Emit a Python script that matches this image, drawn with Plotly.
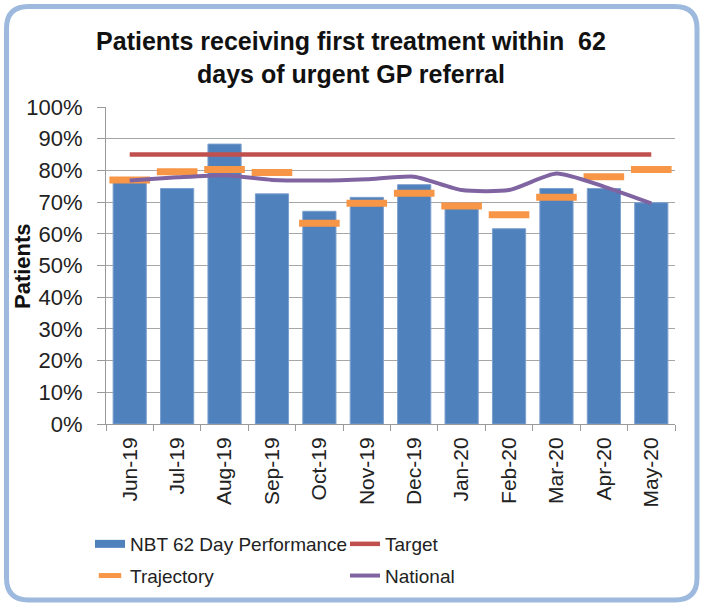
import plotly.graph_objects as go

# data
months = ["Jun-19", "Jul-19", "Aug-19", "Sep-19", "Oct-19", "Nov-19",
          "Dec-19", "Jan-20", "Feb-20", "Mar-20", "Apr-20", "May-20"]
nbt_performance = [0.772, 0.743, 0.883, 0.726, 0.671, 0.715,
                   0.755, 0.684, 0.616, 0.743, 0.743, 0.698]
target = [0.85] * 12
trajectory = [0.770, 0.796, 0.803, 0.793, 0.633, 0.696,
              0.728, 0.688, 0.660, 0.715, 0.780, 0.803]
national = [0.768, 0.778, 0.785, 0.770, 0.768, 0.772,
            0.780, 0.738, 0.738, 0.790, 0.749, 0.696]

W, H = 702, 605
ML, MR, MT, MB = 106, 27, 107, 181
PW, PH = W - ML - MR, H - MT - MB


def px(x):
    return (x - ML) / PW


def py(y):
    return (H - MB - y) / PH


# rounded frame around the whole chart
x0, x1, y0, y1, r = 6.5, 697, 6.5, 600, 22
frame = (f"M {px(x0 + r)},{py(y0)} L {px(x1 - r)},{py(y0)} "
         f"Q {px(x1)},{py(y0)} {px(x1)},{py(y0 + r)} "
         f"L {px(x1)},{py(y1 - r)} Q {px(x1)},{py(y1)} {px(x1 - r)},{py(y1)} "
         f"L {px(x0 + r)},{py(y1)} Q {px(x0)},{py(y1)} {px(x0)},{py(y1 - r)} "
         f"L {px(x0)},{py(y0 + r)} Q {px(x0)},{py(y0)} {px(x0 + r)},{py(y0)} Z")

BLUE, RED, ORANGE, PURPLE = "#4F81BD", "#C0504D", "#F79646", "#8064A2"

fig = go.Figure()

fig.add_trace(go.Bar(
    x=months, y=nbt_performance, name="NBT 62 Day Performance",
    marker=dict(color=BLUE, line=dict(color="#7DA0CF", width=1)),
    showlegend=False,
))
# legend proxy for the bars (long flat swatch)
fig.add_trace(go.Scatter(
    x=[months[0]], y=[None], mode="lines", name="NBT 62 Day Performance",
    line=dict(color=BLUE, width=8), legend="legend", legendgroup="a",
))
fig.add_trace(go.Scatter(
    x=months, y=target, mode="lines", name="Target",
    line=dict(color=RED, width=4.5), legend="legend2", legendgroup="b",
))
fig.add_trace(go.Scatter(
    x=months, y=trajectory, mode="markers", name="Trajectory",
    marker=dict(symbol="line-ew", size=29, color=ORANGE,
                line=dict(color=ORANGE, width=7)),
    legend="legend", legendgroup="c",
))
fig.add_trace(go.Scatter(
    x=months, y=national, mode="lines", name="National",
    line=dict(color=PURPLE, width=4, shape="spline", smoothing=0.6),
    legend="legend2", legendgroup="d",
))

legend_style = dict(
    font=dict(family="Liberation Sans, Arial", size=19, color="#222222"),
    bgcolor="rgba(0,0,0,0)", xanchor="left", yanchor="top",
    tracegroupgap=4, itemwidth=30,
)

fig.update_layout(
    width=W, height=H,
    margin=dict(l=ML, r=MR, t=MT, b=MB, autoexpand=False),
    paper_bgcolor="white", plot_bgcolor="white",
    font=dict(family="Liberation Sans, Arial", color="#222222"),
    title=dict(
        text="<b>Patients receiving first treatment within  62<br>days of urgent GP referral</b>",
        x=0.5, xref="container", xanchor="center",
        y=1 - 50 / H, yanchor="top",
        font=dict(family="Liberation Sans, Arial", size=25, color="#111111"),
    ),
    bargap=0.3,
    xaxis=dict(
        type="category", range=[-0.5, 11.5],
        tickangle=-90, tickfont=dict(size=21), ticklabelstandoff=4,
        showline=True, linecolor="#9A9A9A", linewidth=1,
        ticks="outside", tickson="boundaries", ticklen=6, tickcolor="#9A9A9A",
        showgrid=False,
    ),
    yaxis=dict(
        range=[0, 1], dtick=0.1, tickformat=".0%",
        tickfont=dict(size=22), ticklabelstandoff=10,
        showline=True, linecolor="#9A9A9A", linewidth=1,
        ticks="outside", ticklen=8, tickcolor="#9A9A9A",
        showgrid=True, gridcolor="#A6A6A6", gridwidth=1,
    ),
    annotations=[dict(
        text="<b>Patients</b>", textangle=-90, showarrow=False,
        xref="paper", yref="paper", x=px(22), y=py(266),
        xanchor="center", yanchor="middle",
        font=dict(family="Liberation Sans, Arial", size=22, color="#111111"),
    )],
    legend=dict(x=px(90), y=py(525), **legend_style),
    legend2=dict(x=px(345), y=py(525), **legend_style),
    shapes=[dict(type="path", path=frame, xref="paper", yref="paper",
                 line=dict(color="#9DB9DE", width=5))],
)

# drop the browser's default 8px body margin so the figure sits at the page origin
fig.write_html("out.html", config={"displayModeBar": False},
               post_script="document.body.style.margin='0px';")
